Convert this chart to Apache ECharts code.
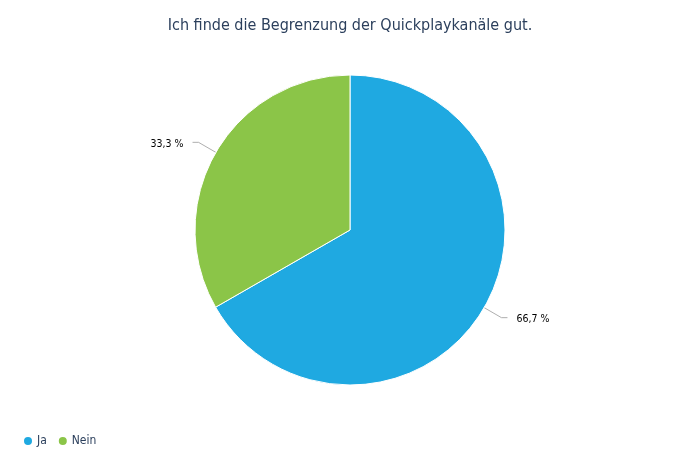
<!DOCTYPE html>
<html><head><meta charset="utf-8">
<script src="https://cdn.jsdelivr.net/npm/echarts@6/dist/echarts.min.js"></script>
<style>html,body{margin:0;padding:0;background:#fff}#c{width:700px;height:471px}</style>
</head><body><div id="c"></div>
<script>
const categories = ["Ja", "Nein"];
const values = [66.7, 33.3];
const colors = ["#1fa9e1", "#8bc548"];
const chart = echarts.init(document.getElementById('c'));
chart.setOption({
  animation: false,
  title: {
    text: "Ich finde die Begrenzung der Quickplaykanäle gut.",
    left: 'center', top: 13,
    textStyle: { fontFamily: 'DejaVu Sans Condensed', fontSize: 16, fontWeight: 'normal', color: '#2b3f5c' }
  },
  legend: {
    left: 17, top: 430, icon: 'circle', itemWidth: 10, itemHeight: 10, itemGap: 10,
    textStyle: { fontFamily: 'DejaVu Sans Condensed', fontSize: 12, color: '#2b3f5c', padding: [0,0,0,-1] },
    data: categories
  },
  series: [{
    type: 'pie',
    center: [350, 230],
    radius: [0, 155],
    startAngle: 90,
    clockwise: true,
    color: colors,
    itemStyle: { borderColor: '#fff', borderWidth: 1 },
    label: {
      formatter: p => p.value.toFixed(1).replace('.', ',') + ' %',
      fontFamily: 'DejaVu Sans Condensed', fontSize: 10.5, color: '#000', padding: [0, 4],
      offset: [0, 2]
    },
    labelLine: { length: 20, length2: 6, lineStyle: { color: '#999', width: 0.8 } },
    data: categories.map((c, i) => ({ name: c, value: values[i] }))
  }]
});
</script></body></html>
